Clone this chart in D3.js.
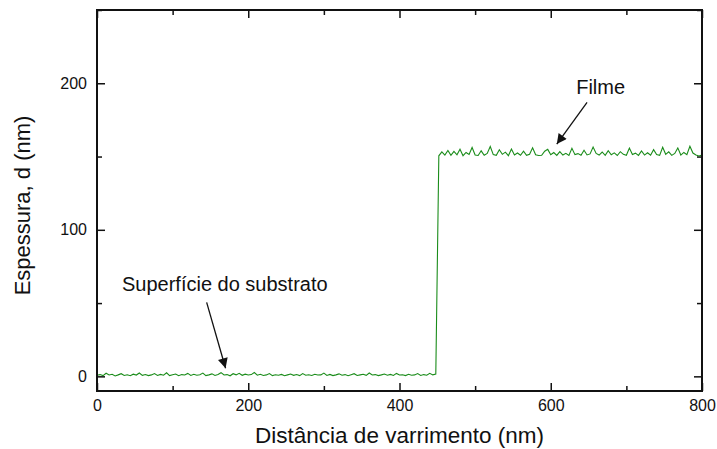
<!DOCTYPE html>
<html>
<head>
<meta charset="utf-8">
<script src="https://cdn.jsdelivr.net/npm/d3@7"></script>
<style>
  body { margin: 0; background: #fff; }
  svg text { font-family: "Liberation Sans", Arial, sans-serif; fill: #111; }
</style>
</head>
<body>
<div class="chart"></div>
<script>
// profile step height scan: substrate then film, sampled every 4 nm
var step = 4;

var substrate = [
  0.8,1.2,0.5,2.1,0.9,1.4,0.3,1.0,1.8,0.6,
  1.1,0.4,1.5,0.9,2.3,0.7,1.2,0.5,1.0,1.9,
  0.6,1.3,0.8,2.4,0.5,1.1,1.6,0.4,1.2,0.9,
  2.0,0.6,1.4,0.8,1.1,2.2,0.5,1.0,1.7,0.6,
  1.3,2.5,0.9,1.2,0.4,1.8,1.0,2.1,0.7,1.5,
  0.9,1.2,2.6,0.8,1.4,0.6,1.0,1.9,0.5,1.1,
  0.8,1.3,0.4,1.0,1.6,0.7,1.2,0.5,1.9,0.8,
  1.1,0.6,1.4,0.9,1.0,2.2,0.6,1.3,0.5,1.0,
  1.7,0.8,1.2,0.4,1.1,1.8,0.6,1.0,1.4,0.7,
  2.3,0.9,1.2,0.5,1.0,1.6,0.8,1.3,0.6,2.0,
  0.9,1.1,0.5,1.4,0.8,1.0,1.9,0.6,1.2,0.8,
  2.1,1.0,1.5
];

var filmStart = 452;
var film = [
  150.5,153.2,151.0,154.1,150.8,153.5,151.2,155.0,150.6,152.8,
  151.4,156.2,151.0,150.7,153.9,150.9,152.1,156.8,151.3,150.8,
  154.6,151.5,153.0,150.6,155.2,151.1,152.4,150.9,153.7,150.8,
  151.6,156.0,151.2,150.7,150.9,153.6,154.9,151.2,152.7,150.8,
  153.4,151.0,152.2,150.7,155.6,151.3,152.0,150.9,154.3,151.1,
  151.8,156.5,152.1,151.0,153.1,150.8,154.0,151.2,152.5,150.7,
  153.3,151.5,150.9,155.8,151.4,152.3,150.8,153.8,151.0,152.6,
  150.9,154.7,151.3,150.8,156.3,151.5,153.2,150.8,152.1,155.9,
  151.0,152.8,151.3,157.0,152.4,151.1,150.4,151.0
];

var xMajor = [0, 200, 400, 600, 800];
var xMinor = [100, 300, 500, 700];
var yMajor = [0, 100, 200];
var yMinor = [50, 150, 250];

var width = 717, height = 449;
var margin = {top: 10, right: 15, bottom: 58, left: 97};
var w = width - margin.left - margin.right,
    h = height - margin.top - margin.bottom;

var svg = d3.select(".chart").append("svg")
    .attr("width", width)
    .attr("height", height);

var g = svg.append("g")
    .attr("transform", "translate(" + margin.left + "," + margin.top + ")");

var x = d3.scaleLinear().domain([0, 800]).range([0, w]);
var y = d3.scaleLinear().domain([-10, 250]).range([h, 0]);

var data = [];
substrate.forEach(function (v, i) { data.push([i * step, v]); });
film.forEach(function (v, i) { data.push([filmStart + i * step, v]); });

// axes: ticks point inward, mirrored on top and right
function styleAxis(sel) {
  sel.select(".domain").remove();
  sel.selectAll("line").attr("stroke", "#111").attr("stroke-width", 1.5);
  sel.selectAll("text").style("font-size", "16px").attr("fill", "#111");
}

g.append("g").attr("transform", "translate(0," + h + ")")
  .call(d3.axisBottom(x).tickValues(xMajor).tickSize(-8).tickPadding(9).tickFormat(d3.format("d")))
  .call(styleAxis);
g.append("g").attr("transform", "translate(0," + h + ")")
  .call(d3.axisBottom(x).tickValues(xMinor).tickSize(-5).tickFormat(""))
  .call(styleAxis);
g.append("g")
  .call(d3.axisTop(x).tickValues(xMajor).tickSize(-8).tickFormat(""))
  .call(styleAxis);
g.append("g")
  .call(d3.axisTop(x).tickValues(xMinor).tickSize(-5).tickFormat(""))
  .call(styleAxis);

g.append("g")
  .call(d3.axisLeft(y).tickValues(yMajor).tickSize(-8).tickPadding(10).tickFormat(d3.format("d")))
  .call(styleAxis);
g.append("g")
  .call(d3.axisLeft(y).tickValues(yMinor).tickSize(-5).tickFormat(""))
  .call(styleAxis);
g.append("g").attr("transform", "translate(" + w + ",0)")
  .call(d3.axisRight(y).tickValues(yMajor).tickSize(-8).tickFormat(""))
  .call(styleAxis);
g.append("g").attr("transform", "translate(" + w + ",0)")
  .call(d3.axisRight(y).tickValues(yMinor).tickSize(-5).tickFormat(""))
  .call(styleAxis);

g.append("path")
  .datum(data)
  .attr("fill", "none")
  .attr("stroke", "#1a8c1a")
  .attr("stroke-width", 1.1)
  .attr("d", d3.line().x(function (d) { return x(d[0]); }).y(function (d) { return y(d[1]); }));

g.append("rect")
  .attr("width", w).attr("height", h)
  .attr("fill", "none")
  .attr("stroke", "#111")
  .attr("stroke-width", 2);

// axis titles
svg.append("text")
  .attr("x", margin.left + w / 2)
  .attr("y", 443)
  .attr("text-anchor", "middle")
  .style("font-size", "22.5px")
  .text("Distância de varrimento (nm)");

svg.append("text")
  .attr("transform", "translate(30," + (margin.top + h / 2 + 5) + ") rotate(-90)")
  .attr("text-anchor", "middle")
  .style("font-size", "22px")
  .text("Espessura, d (nm)");

// annotations
svg.append("defs").append("marker")
  .attr("id", "arrow")
  .attr("viewBox", "0 0 10 10")
  .attr("refX", 10).attr("refY", 5)
  .attr("markerWidth", 12).attr("markerHeight", 10)
  .attr("markerUnits", "userSpaceOnUse")
  .attr("orient", "auto")
  .append("path")
  .attr("d", "M0,0 L10,5 L0,10 Z")
  .attr("fill", "#111");

g.append("text")
  .attr("x", x(666)).attr("y", y(193))
  .attr("text-anchor", "middle")
  .style("font-size", "20px")
  .text("Filme");
g.append("line")
  .attr("x1", x(648)).attr("y1", y(187))
  .attr("x2", x(608)).attr("y2", y(158.5))
  .attr("stroke", "#111").attr("stroke-width", 1.3)
  .attr("marker-end", "url(#arrow)");

g.append("text")
  .attr("x", x(33)).attr("y", y(58))
  .style("font-size", "20px")
  .text("Superfície do substrato");
g.append("line")
  .attr("x1", x(145)).attr("y1", y(50.5))
  .attr("x2", x(170)).attr("y2", y(5.5))
  .attr("stroke", "#111").attr("stroke-width", 1.3)
  .attr("marker-end", "url(#arrow)");
</script>
</body>
</html>
